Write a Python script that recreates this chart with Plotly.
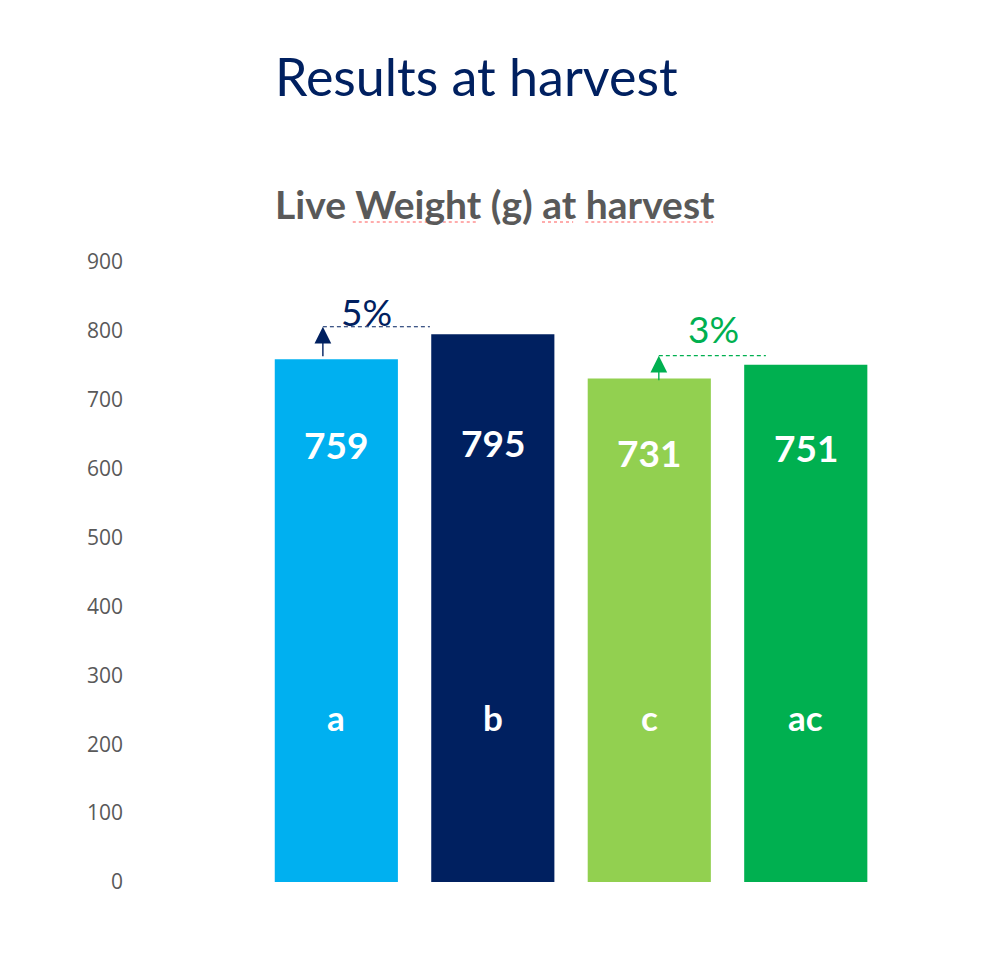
import plotly.graph_objects as go

# data
groups = ["a", "b", "c", "ac"]
live_weight = [759, 795, 731, 751]
bar_colors = ["#00B0F0", "#002060", "#92D050", "#00B050"]
y_ticks = [0, 100, 200, 300, 400, 500, 600, 700, 800, 900]

NAVY = "#002060"
GREEN = "#00B050"
GREY = "#595959"

fig = go.Figure()
fig.add_trace(go.Bar(
    x=list(range(len(groups))),
    y=live_weight,
    marker=dict(color=bar_colors, line=dict(width=0)),
    width=0.787,
    hoverinfo="skip",
))

# value labels inside the bars (heights in data units, tuned by eye)
value_label_y = [635, 638, 624, 631]
for i, (v, ly) in enumerate(zip(live_weight, value_label_y)):
    fig.add_annotation(x=i, y=ly, text=f"<b>{v}</b>", showarrow=False,
                       font=dict(family="Lato", size=37, color="white"))
    fig.add_annotation(x=i, y=240, text=f"<b>{groups[i]}</b>", showarrow=False,
                       font=dict(family="Lato", size=35, color="white"))

# percent gains: a -> b and c -> ac
gain_ab = round((live_weight[1] / live_weight[0] - 1) * 100)
gain_cac = round((live_weight[3] / live_weight[2] - 1) * 100)

# a -> b arrow + dashed guide
fig.add_annotation(x=-0.086, y=806, ax=-0.086, ay=761, xref="x", yref="y",
                   axref="x", ayref="y", showarrow=True, text="",
                   arrowhead=2, arrowsize=2.4, arrowwidth=1.4, arrowcolor=NAVY)
fig.add_shape(type="line", xref="x", yref="y", x0=-0.086, x1=0.598,
              y0=806, y1=806, line=dict(color=NAVY, width=1.2, dash="4px,3px"))
fig.add_annotation(x=0.19, y=828, text=f"{gain_ab}%", showarrow=False,
                   font=dict(family="Lato", size=37, color=NAVY))

# c -> ac arrow + dashed guide
fig.add_annotation(x=2.061, y=764, ax=2.061, ay=726, xref="x", yref="y",
                   axref="x", ayref="y", showarrow=True, text="",
                   arrowhead=2, arrowsize=2.4, arrowwidth=1.4, arrowcolor=GREEN)
fig.add_shape(type="line", xref="x", yref="y", x0=2.061, x1=2.745,
              y0=764, y1=764, line=dict(color=GREEN, width=1.2, dash="4px,3px"))
fig.add_annotation(x=2.41, y=804, text=f"{gain_cac}%", showarrow=False,
                   font=dict(family="Lato", size=37, color=GREEN))

# slide title and chart title (paper coords, plot area is 760 x 620 px)
fig.add_annotation(xref="paper", yref="paper", x=0.196, y=1.30, xanchor="left",
                   yanchor="middle", text="Results at harvest", showarrow=False,
                   font=dict(family="Lato", size=52, color=NAVY))
fig.add_annotation(xref="paper", yref="paper", x=0.196, y=1.094, xanchor="left",
                   yanchor="middle", text="<b>Live Weight (g) at harvest</b>",
                   showarrow=False,
                   font=dict(family="Lato", size=39, color=GREY))

# spell-check squiggles under the chart title words
for x0, x1 in [(0.301, 0.466), (0.550, 0.591), (0.607, 0.775)]:
    fig.add_shape(type="line", xref="paper", yref="paper", x0=x0, x1=x1,
                  y0=1.0645, y1=1.0645,
                  line=dict(color="#FF5A5A", width=1.2, dash="dot"))

fig.update_layout(
    width=984,
    height=956,
    paper_bgcolor="white",
    plot_bgcolor="white",
    margin=dict(l=116, r=108, t=254, b=82),
    showlegend=False,
    xaxis=dict(range=[-1.357, 3.5], showticklabels=False, showgrid=False,
               zeroline=False, showline=False, ticks=""),
    yaxis=dict(range=[0, 900], tickvals=y_ticks, showgrid=False, zeroline=False,
               showline=False, ticks="",
               tickfont=dict(family="Open Sans", size=21, color=GREY)),
)

fig.write_html("out.html")
